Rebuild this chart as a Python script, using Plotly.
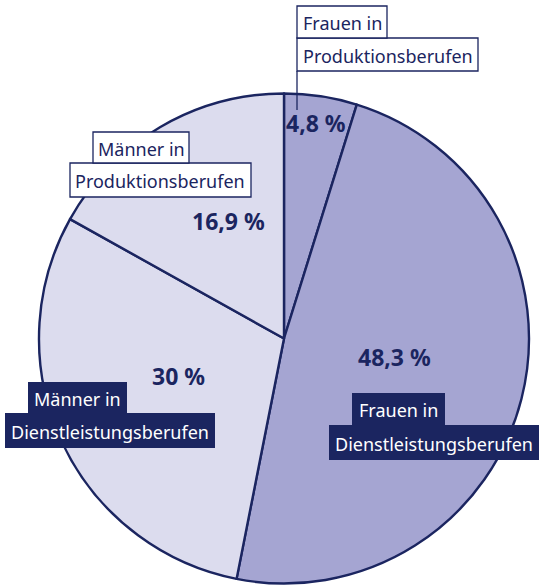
import plotly.graph_objects as go

W, H = 539, 586

categories = ["Frauen in Produktionsberufen", "Frauen in Dienstleistungsberufen",
              "Männer in Dienstleistungsberufen", "Männer in Produktionsberufen"]
values = [4.8, 48.3, 30.0, 16.9]
value_labels = ["4,8 %", "48,3 %", "30 %", "16,9 %"]
label_lines = [["Frauen in", "Produktionsberufen"],
               ["Frauen in", "Dienstleistungsberufen"],
               ["Männer in", "Dienstleistungsberufen"],
               ["Männer in", "Produktionsberufen"]]
colors = ["#a5a5d2", "#a5a5d2", "#dcdcee", "#dcdcee"]

NAVY = "#1b2560"
FONT = "Noto Sans"

def px(x):
    return x / W

def py(y):
    return 1 - y / H

cx, cy, r = 284, 338.5, 245

fig = go.Figure(go.Pie(
    labels=categories, values=values, sort=False, direction="clockwise", rotation=0,
    marker=dict(colors=colors, line=dict(color=NAVY, width=2.4)),
    textinfo="none", hoverinfo="label+percent", showlegend=False,
    domain=dict(x=[px(cx - r), px(cx + r)], y=[py(cy + r), py(cy - r)]),
))

# percentage label positions (pixels)
pct_pos = [(316, 123), (394, 357), (178, 376), (228, 221)]
# label boxes: list of (x0, y0, x1, y1) per line
boxes = [
    [(297, 6, 387, 38), (297, 38, 478, 71)],
    [(352, 393, 445, 425), (329, 425, 539, 460)],
    [(28, 382, 127, 413), (5, 413, 215, 448)],
    [(93, 132, 189, 163), (70, 163, 251, 197)],
]
filled = [False, True, True, False]

shapes = []
annotations = []
for i in range(4):
    x, y = pct_pos[i]
    annotations.append(dict(x=px(x), y=py(y), xref="paper", yref="paper",
                            text="<b>%s</b>" % value_labels[i], showarrow=False,
                            font=dict(family=FONT, size=23, color=NAVY),
                            xanchor="center", yanchor="middle"))
    for j in [1, 0]:
        x0, y0, x1, y1 = boxes[i][j]
        shapes.append(dict(type="rect", xref="paper", yref="paper",
                           x0=px(x0), x1=px(x1), y0=py(y1), y1=py(y0),
                           fillcolor=NAVY if filled[i] else "white",
                           line=dict(color=NAVY, width=1.3 if not filled[i] else 0)))
    for j in range(2):
        x0, y0, x1, y1 = boxes[i][j]
        annotations.append(dict(x=px((x0 + x1) / 2), y=py((y0 + y1) / 2 + 1),
                                xref="paper", yref="paper", text=label_lines[i][j],
                                showarrow=False,
                                font=dict(family=FONT, size=18,
                                          color="white" if filled[i] else NAVY),
                                xanchor="center", yanchor="middle"))

# leader line for smallest slice
shapes.append(dict(type="line", xref="paper", yref="paper",
                   x0=px(297), x1=px(297), y0=py(71), y1=py(110),
                   line=dict(color=NAVY, width=1.3)))

fig.update_layout(width=W, height=H, margin=dict(l=0, r=0, t=0, b=0),
                  paper_bgcolor="white", plot_bgcolor="white",
                  shapes=shapes, annotations=annotations)

fig.write_html("out.html", config={"displayModeBar": False})

with open("out.html", "r", encoding="utf-8") as f:
    html = f.read()
html = html.replace("<head>", "<head><style>html,body{margin:0;padding:0;overflow:hidden;}</style>", 1)
with open("out.html", "w", encoding="utf-8") as f:
    f.write(html)
